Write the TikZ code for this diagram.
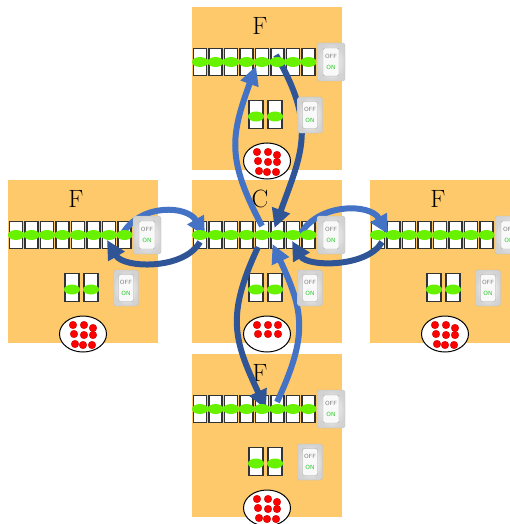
\documentclass[tikz,border=0pt]{standalone}
\usepackage{tikz}
\usetikzlibrary{arrows.meta, positioning, calc, shapes.geometric}
\definecolor{panelbg}{RGB}{253,201,107}
\definecolor{ledgreen}{RGB}{104,242,0}
\definecolor{arrblue}{RGB}{68,114,196}
\definecolor{arrdark}{RGB}{47,85,151}
\definecolor{ongreen}{RGB}{40,200,40}

\begin{document}
\begin{tikzpicture}[
  x=1pt, y=1pt,
  panel/.style={fill=panelbg, minimum width=150pt, minimum height=163pt, inner sep=0pt, anchor=north west},
  tag/.style={font=\fontsize{25}{30}\selectfont, inner sep=0pt},
  slot/.style={draw=black!80, fill=white, line width=1.1pt, minimum width=13pt, minimum height=27pt, inner sep=0pt},
  led/.style={ellipse, fill=ledgreen, minimum width=16pt, minimum height=10pt, inner sep=0pt},
  tray/.style={ellipse, draw, fill=white, line width=1pt, minimum width=47pt, minimum height=36pt, inner sep=0pt},
  bead/.style={circle, fill=red, draw=red!75!black, line width=0.3pt, minimum size=7.6pt, inner sep=0pt},
  swbox/.style={rounded corners=2.5pt, draw=gray!50, inner color=white, outer color=gray!35, minimum width=28pt, minimum height=38pt, inner sep=0pt},
  rocker/.style={rounded corners=2pt, draw=gray!70, fill=gray!5, minimum width=16pt, minimum height=28pt, inner sep=0pt, align=center, font=\sffamily\fontsize{6}{7}\selectfont},
  xarr/.style={line width=6pt, arrblue, -{Triangle[length=19pt, width=18pt]}}
]
\useasboundingbox (0,0) rectangle (509,-524);

\foreach \pn/\px/\py/\lbl in {top/192/7/F, left/8/180/F, mid/192/180/C, right/370/180/F, bot/192/354/F} {
  \begin{scope}[shift={(\px,-\py)}]
    \node[panel] (\pn) at (0,0) {};
    \node[tag] (\pn-tag) at (68,-19) {\lbl};
    \foreach \i in {1,...,8}
      \node[slot] (\pn-s\i) at ({8+(\i-1)*15.5},-55) {};
    \node[slot, minimum width=14pt, minimum height=28pt] (\pn-t1) at (64,-107.5) {};
    \node[slot, minimum width=14pt, minimum height=28pt] (\pn-t2) at (83,-107.5) {};
    \node[tray] (\pn-tray) at (75,-154) {};
  \end{scope}
}
\foreach \pn in {top,left,right,bot}
  \foreach \dx/\dy [count=\k] in {-10/9, 1/9, 10/6, -9/0, 1/-1, 10/-1, -8/-10, 0/-11, 9/-11}
    \node[bead] (\pn-b\k) at ($(\pn-tray)+(\dx,\dy)$) {};
\foreach \dx/\dy [count=\k] in {-10/9, 1/9, 11/9, -9/0, 1/0, 11/0}
  \node[bead] (mid-b\k) at ($(mid-tray)+(\dx,\dy)$) {};

\draw[xarr] ($(mid-s5)+(0,9)$) to[out=118, in=250, looseness=1.2] ($(top-s5)+(-6,-4)$);
\draw[xarr, arrdark] ($(top-s6)+(-1.5,7)$) to[out=-60, in=70, looseness=1.2] ($(mid-s6)+(-3,7)$);
\draw[xarr, arrdark] ($(mid-s5)+(-4,-12)$) to[out=245, in=115, looseness=1.2] ($(bot-s5)+(4,0)$);
\draw[xarr] ($(bot-s6)+(-0.5,7)$) to[out=65, in=-65, looseness=1.2] ($(mid-s6)+(-5,-9)$);
\draw[xarr] ($(left-s8)+(-2,1)$) to[out=60, in=120, looseness=1.1] ($(mid-s1)+(5,-1)$);
\draw[xarr, arrdark] ($(mid-s1)+(0,-7)$) to[out=240, in=300, looseness=0.9] ($(left-s7)+(-2,-5)$);
\draw[xarr] ($(mid-s8)+(-8,1)$) to[out=60, in=120, looseness=1.05] ($(right-s1)+(10,1)$);
\draw[xarr, arrdark] ($(right-s1)+(4,-7)$) to[out=240, in=300, looseness=0.85] ($(mid-s7)+(-1,-6)$);

\foreach \pn in {top,left,mid,right,bot} {
  \foreach \i in {1,...,8}
    \node[led] (\pn-l\i) at (\pn-s\i) {};
  \node[led] (\pn-m1) at ($(\pn-t1)+(0,-2)$) {};
  \node[led] (\pn-m2) at ($(\pn-t2)+(0,-2)$) {};
  \node[swbox] (\pn-sw) at ($(\pn.north west)+(139,-55)$) {};
  \node[rocker] (\pn-rk) at (\pn-sw) {{\color{gray}OFF}\\[4pt]{\color{ongreen}ON}};
  \node[swbox, minimum width=25pt, minimum height=36pt] (\pn-sw2) at ($(\pn.north west)+(118,-108)$) {};
  \node[rocker, minimum width=15pt, minimum height=27pt] (\pn-rk2) at (\pn-sw2) {{\color{gray}OFF}\\[4pt]{\color{ongreen}ON}};
}
\end{tikzpicture}
\end{document}
